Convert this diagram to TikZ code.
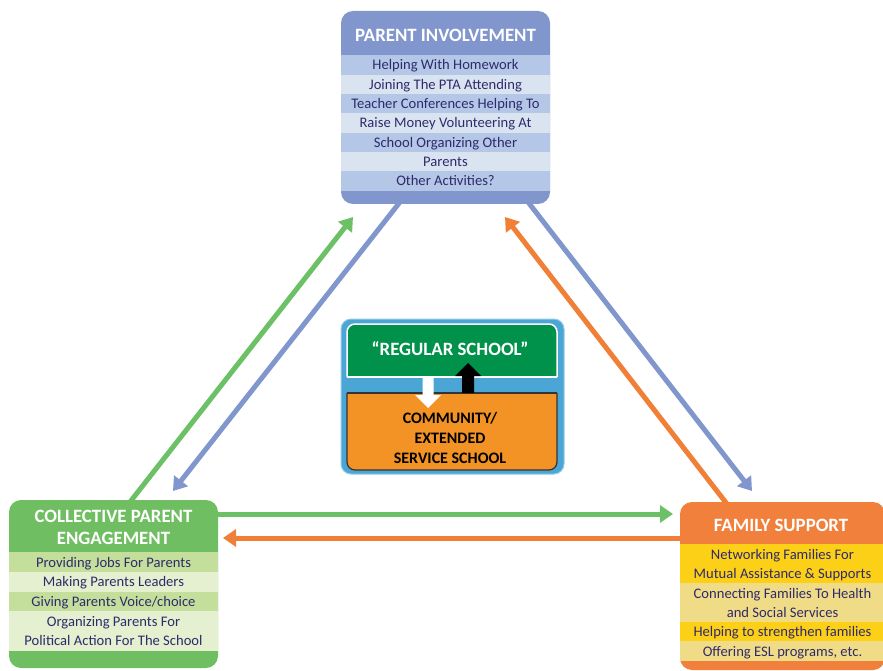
\documentclass[tikz,border=0pt]{standalone}
\usepackage{fontspec}
\setmainfont{Carlito}
\usetikzlibrary{arrows.meta}

\definecolor{ink}{HTML}{2F2A6B}
\definecolor{pihead}{HTML}{8096CD}
\definecolor{pidark}{HTML}{B4C7E7}
\definecolor{pilight}{HTML}{DAE4F1}
\definecolor{cphead}{HTML}{70BE62}
\definecolor{cpdark}{HTML}{C4DF9B}
\definecolor{cplight}{HTML}{E4F0CF}
\definecolor{fshead}{HTML}{F0803C}
\definecolor{fsyellow}{HTML}{FCD017}
\definecolor{fskhaki}{HTML}{F0DC87}
\definecolor{linkgreen}{HTML}{6CC066}
\definecolor{linkblue}{HTML}{8096CD}
\definecolor{linkorange}{HTML}{F07F38}
\definecolor{hubblue}{HTML}{4BA6D6}
\definecolor{hubgreen}{HTML}{00924A}
\definecolor{huborange}{HTML}{F39325}

\tikzset{
  panel/.style={rounded corners=12pt, inner sep=0pt, draw=none},
  rowcell/.style={inner sep=0pt, anchor=north, text=ink, align=center,
    text depth=0pt, font=\fontsize{14.6}{19.4}\selectfont},
  headtxt/.style={text=white, align=center,
    font=\bfseries\fontsize{18.8}{21.5}\selectfont},
  link/.style={line width=5pt, -{Triangle[length=13pt,width=17pt]}},
  hubtxt/.style={align=center, font=\bfseries\fontsize{16}{20}\selectfont},
}

\begin{document}
\begin{tikzpicture}[x=1pt,y=-1pt]
\useasboundingbox (0,0) rectangle (883,671);
\fill[white] (0,0) rectangle (883,671);

% ---- connector end points ----
\coordinate (gUpS) at (130,502);   \coordinate (gUpT) at (353,217);
\coordinate (bDnS) at (400,202);   \coordinate (bDnT) at (173,491);
\coordinate (bRtS) at (528,202);   \coordinate (bRtT) at (752,491);
\coordinate (oUpS) at (727,504);   \coordinate (oUpT) at (505,217);
\coordinate (gHzS) at (216,514);   \coordinate (gHzT) at (673,514);
\coordinate (oHzS) at (682,538);   \coordinate (oHzT) at (223,538);

% ---- connectors (drawn first so the panels cover their roots) ----
\draw[link, linkgreen]  (gUpS) -- (gUpT);
\draw[link, linkblue]   (bDnS) -- (bDnT);
\draw[link, linkblue]   (bRtS) -- (bRtT);
\draw[link, linkorange] (oUpS) -- (oUpT);
\draw[link, linkgreen]  (gHzS) -- (gHzT);
\draw[link, linkorange] (oHzS) -- (oHzT);

% ---- Parent involvement ----
\node[panel, fill=pihead, minimum width=209pt, minimum height=193pt] (pi) at (445.5,107.5) {};
\node[headtxt] (pit) at (445.5,35) {PARENT INVOLVEMENT};
\foreach \t [count=\i] in {Helping With Homework, Joining The PTA Attending,
    Teacher Conferences Helping To, Raise Money Volunteering At,
    School Organizing Other, Parents, Other Activities?}{
  \pgfmathsetmacro{\yy}{55+(\i-1)*19.33}
  \pgfmathparse{isodd(\i)}
  \ifnum\pgfmathresult=1 \def\rc{pidark}\else\def\rc{pilight}\fi
  \node[rowcell, fill=\rc, minimum width=209pt, minimum height=19.4pt] (pir\i) at (445.5,\yy) {\t};
}

% ---- Collective parent engagement ----
\node[panel, fill=cphead, minimum width=209pt, minimum height=168pt] (cp) at (113.5,584) {};
\node[headtxt] (cpt) at (113.5,527.5) {COLLECTIVE PARENT\\ENGAGEMENT};
\node[rowcell, fill=cpdark,  minimum width=209pt, minimum height=20pt] (cp1) at (113.5,552) {Providing Jobs For Parents};
\node[rowcell, fill=cplight, minimum width=209pt, minimum height=19.4pt] (cp2) at (113.5,572) {Making Parents Leaders};
\node[rowcell, fill=cpdark,  minimum width=209pt, minimum height=19.4pt] (cp3) at (113.5,591.3) {Giving Parents Voice/choice};
\node[rowcell, fill=cplight, minimum width=209pt, minimum height=40.5pt] (cp4) at (113.5,610.6) {Organizing Parents For\\Political Action For The School};

% ---- Family support ----
\node[panel, fill=fshead, minimum width=205pt, minimum height=168pt] (fs) at (782.5,586) {};
\node[headtxt] (fst) at (781,525) {FAMILY SUPPORT};
\node[rowcell, fill=fsyellow, minimum width=205pt, minimum height=39pt] (fs1) at (782.5,544) {Networking Families For\\Mutual Assistance \& Supports};
\node[rowcell, fill=fskhaki,  minimum width=205pt, minimum height=39pt] (fs2) at (782.5,583) {Connecting Families To Health\\and Social Services};
\node[rowcell, fill=fsyellow, minimum width=205pt, minimum height=19.4pt] (fs3) at (782.5,622) {Helping to strengthen families};
\node[rowcell, fill=fskhaki,  minimum width=205pt, minimum height=19.4pt] (fs4) at (782.5,641.2) {Offering ESL programs, etc.};

% ---- central school model ----
\node[panel, rounded corners=10pt, fill=hubblue, draw=hubblue!60!white, line width=1pt,
  minimum width=223pt, minimum height=155pt] (hub) at (452.5,396.5) {};
% green upper block: rounded top, square bottom
\filldraw[fill=hubgreen, draw=white, line width=1.5pt, rounded corners=8pt]
  (347,377) -- (347,324) -- (557,324) -- (557,377);
\draw[white, line width=1.5pt] (347,377) -- (557,377);
% orange lower block: square top, rounded bottom
\filldraw[fill=huborange, draw=black!80, line width=1.2pt, rounded corners=8pt]
  (347,393) -- (347,470) -- (557,470) -- (557,393);
\draw[black!80, line width=1.2pt] (347,393) -- (557,393);
% block arrows between the two schools
\fill[white] (422.5,376) -- (433.5,376) -- (433.5,395) -- (441,395) -- (428,408)
  -- (415,395) -- (422.5,395) -- cycle;
\fill[black] (462,393) -- (474,393) -- (474,376) -- (481,376) -- (468,363)
  -- (455,376) -- (462,376) -- cycle;
\node[hubtxt, text=white, font=\bfseries\fontsize{18.8}{20}\selectfont] (reg) at (450,349) {“REGULAR SCHOOL”};
\node[hubtxt, text=black] (ces) at (450,438) {COMMUNITY/\\EXTENDED\\SERVICE SCHOOL};
\end{tikzpicture}
\end{document}
